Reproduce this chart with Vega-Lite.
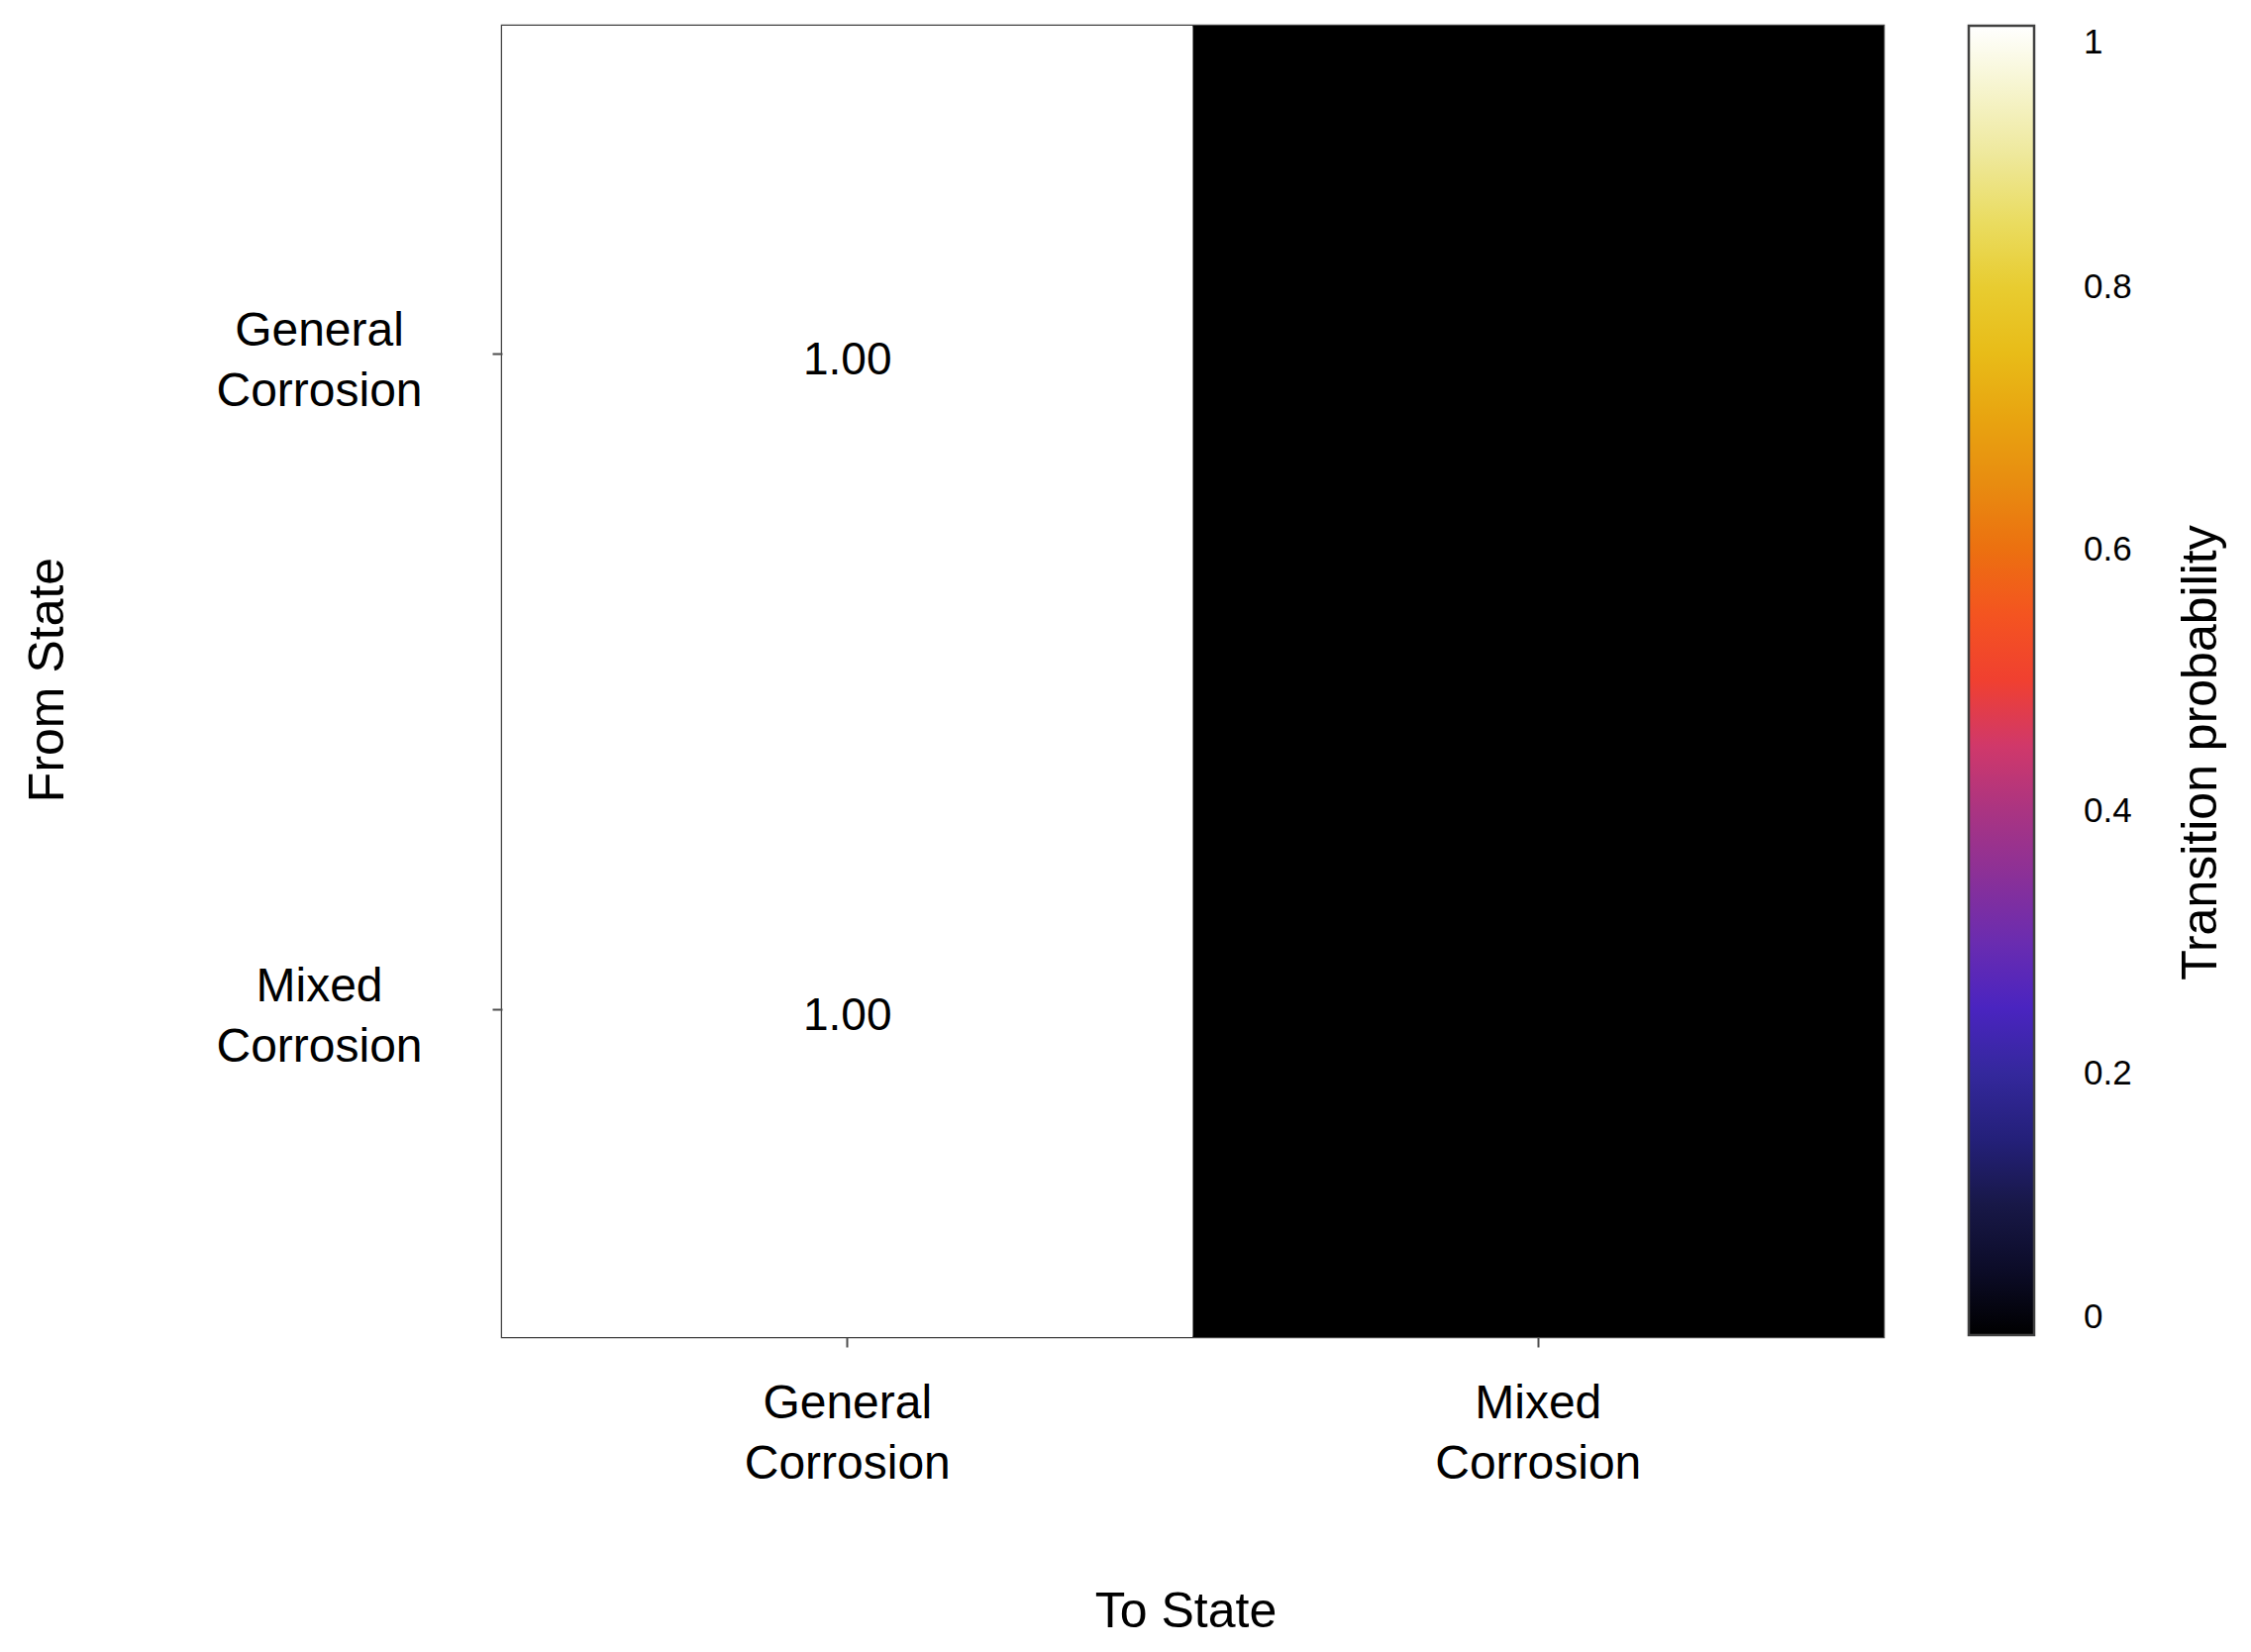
{
  "$schema": "https://vega.github.io/schema/vega-lite/v6.json",
  "autosize": {"type": "none"},
  "padding": {"left": 507, "top": 26, "right": 371, "bottom": 318},
  "width": 1395,
  "height": 1324,
  "background": "white",
  "config": {
    "view": {"stroke": "#404040", "strokeWidth": 2.5},
    "font": "Liberation Sans",
    "axis": {"grid": false, "domain": false, "tickColor": "#4d4d4d", "tickWidth": 2, "tickSize": 10,
             "labelFont": "Liberation Sans", "labelFontSize": 48, "labelColor": "black", "labelLineHeight": 61, "labelLimit": 0,
             "titleFont": "Liberation Sans", "titleFontSize": 50, "titleColor": "black", "titleFontWeight": "normal"}
  },
  "data": {"values": [
    {"from": "General Corrosion", "to": "General Corrosion", "p": 1.0},
    {"from": "General Corrosion", "to": "Mixed Corrosion", "p": 0.0},
    {"from": "Mixed Corrosion", "to": "General Corrosion", "p": 1.0},
    {"from": "Mixed Corrosion", "to": "Mixed Corrosion", "p": 0.0}
  ]},
  "layer": [
    {
      "mark": {"type": "rect"},
      "encoding": {
        "x": {"field": "to", "type": "nominal", "sort": ["General Corrosion", "Mixed Corrosion"],
              "scale": {"paddingInner": 0, "paddingOuter": 0},
              "axis": {"title": "To State", "labelAngle": 0, "labelAlign": "center", "labelBaseline": "top",
                       "labelPadding": 33, "labelExpr": "split(datum.label, ' ')",
                       "titleX": 690, "titleY": 277, "titleBaseline": "middle", "titleAlign": "center"}},
        "y": {"field": "from", "type": "nominal", "sort": ["General Corrosion", "Mixed Corrosion"],
              "scale": {"paddingInner": 0, "paddingOuter": 0},
              "axis": {"title": "From State", "labelAlign": "center", "labelBaseline": "middle",
                       "labelPadding": 175, "labelOffset": -22, "labelExpr": "split(datum.label, ' ')",
                       "titleX": -459, "titleY": 660, "titleAngle": -90, "titleBaseline": "middle", "titleAlign": "center"}},
        "color": {"field": "p", "type": "quantitative",
                  "scale": {"domain": [0, 0.05, 0.1, 0.15, 0.2, 0.25, 0.3, 0.35, 0.4, 0.45, 0.5, 0.55, 0.6, 0.65, 0.7, 0.75, 0.8, 0.85, 0.9, 0.95, 1],
                            "range": ["#000000", "#0c0c28", "#181848", "#24207a", "#34289c", "#4a24c0", "#6a2cb0", "#8a3098", "#aa3482", "#d0386a", "#f04030", "#f45420", "#ec7010", "#e88c10", "#e8a410", "#e8bc18", "#e8cc30", "#eadc60", "#eee89a", "#f6f4cc", "#ffffff"],
                            "interpolate": "rgb"},
                  "legend": {"title": "Transition probability", "orient": "right", "direction": "vertical",
                             "offset": 86, "padding": 0, "gradientLength": 1322, "gradientThickness": 66,
                             "gradientStrokeColor": "#404040", "gradientStrokeWidth": 2.5,
                             "values": [0, 0.2, 0.4, 0.6, 0.8, 1], "format": "~g",
                             "labelFont": "Liberation Sans", "labelFontSize": 35, "labelColor": "black",
                             "labelAlign": "center", "labelOffset": 50,
                             "titleFont": "Liberation Sans", "titleFontSize": 50, "titleColor": "black", "titleFontWeight": "normal",
                             "titleLimit": 0, "titleOrient": "right", "titleAnchor": "middle", "titlePadding": 95,
                             "encode": {"title": {"update": {"angle": {"value": -90}, "dx": {"value": -72}}}}}}
      }
    },
    {
      "transform": [{"filter": "datum.p > 0"}],
      "mark": {"type": "text", "font": "Liberation Sans", "fontSize": 46, "color": "black", "dy": 7},
      "encoding": {
        "x": {"field": "to", "type": "nominal", "sort": ["General Corrosion", "Mixed Corrosion"]},
        "y": {"field": "from", "type": "nominal", "sort": ["General Corrosion", "Mixed Corrosion"]},
        "text": {"field": "p", "type": "quantitative", "format": ".2f"}
      }
    }
  ]
}
